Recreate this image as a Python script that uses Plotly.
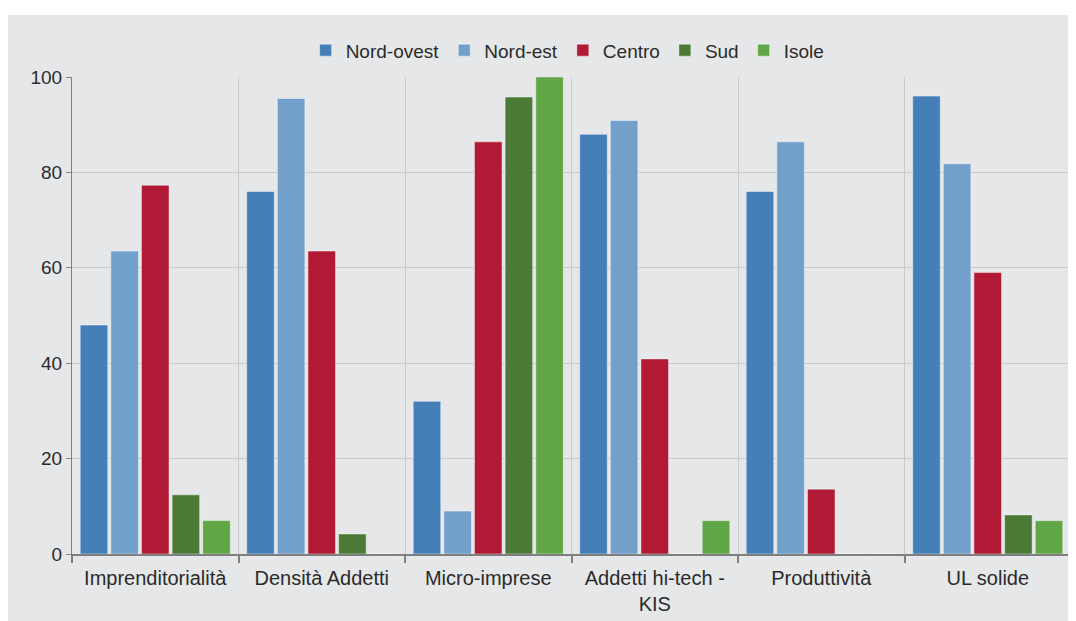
import plotly.graph_objects as go

categories = ["Imprenditorialità", "Densità Addetti", "Micro-imprese",
              "Addetti hi-tech -<br>KIS", "Produttività", "UL solide"]

nord_ovest = [48.0, 76.0, 32.0, 88.0, 76.0, 96.0]
nord_est = [63.5, 95.5, 9.0, 90.9, 86.4, 81.8]
centro = [77.3, 63.5, 86.4, 40.9, 13.6, 59.0]
sud = [12.4, 4.2, 95.8, 0, 0, 8.2]
isole = [7.0, 0, 100.0, 7.0, 0, 7.0]

series = [
    ("Nord-ovest", nord_ovest, "#457fb8"),
    ("Nord-est", nord_est, "#72a0ca"),
    ("Centro", centro, "#b01a34"),
    ("Sud", sud, "#4a7a35"),
    ("Isole", isole, "#60a646"),
]

bg = "#e6e7e9"

fig = go.Figure()
for name, vals, col in series:
    fig.add_trace(go.Bar(
        x=categories, y=vals, name=name,
        marker=dict(color=col, line=dict(color="rgba(255,255,255,0.45)", width=1)),
    ))

# grey panel behind everything, leaving a white strip at the top
fig.add_shape(type="rect", xref="paper", yref="paper",
              x0=-0.08, x1=1.02, y0=-0.2, y1=1.13,
              fillcolor=bg, line_width=0, layer="below")

# page body adds an 8px margin, so the figure is 8px smaller than the window
fig.update_layout(
    width=1068, height=613,
    margin=dict(l=64, r=5, t=69, b=67, autoexpand=False),
    paper_bgcolor=bg,
    plot_bgcolor=bg,
    barmode="group",
    bargap=0.08,
    bargroupgap=0.1,
    font=dict(family="Liberation Sans, Arial, sans-serif", size=19, color="#2b2b2b"),
    legend=dict(orientation="h", x=0.524, xanchor="center", xref="container",
                y=0.931, yanchor="middle", yref="container",
                font=dict(size=19),
                itemwidth=30, traceorder="normal",
                bgcolor="rgba(0,0,0,0)"),
    showlegend=True,
)

# white strip along the top of the page
fig.add_shape(type="rect", xref="paper", yref="paper",
              x0=-0.08, x1=1.02, y0=1.13, y1=1.3,
              fillcolor="white", line_width=0, layer="below")

fig.update_xaxes(
    type="category",
    tickson="boundaries",
    showgrid=True, gridcolor="#c8c9cb", gridwidth=1,
    showline=True, linecolor="#7f7f7f", linewidth=2,
    ticks="outside", ticklen=7, tickcolor="#7f7f7f", tickwidth=2,
    tickfont=dict(size=20),
    ticklabelstandoff=5,
)

fig.update_yaxes(
    range=[0, 100],
    tickvals=[0, 20, 40, 60, 80, 100],
    showgrid=True, gridcolor="#c8c9cb", gridwidth=1,
    showline=True, linecolor="#7f7f7f", linewidth=1,
    ticks="outside", ticklen=5, tickcolor="#7f7f7f",
    tickfont=dict(size=19),
    zeroline=False,
)

fig.write_html("out.html")
